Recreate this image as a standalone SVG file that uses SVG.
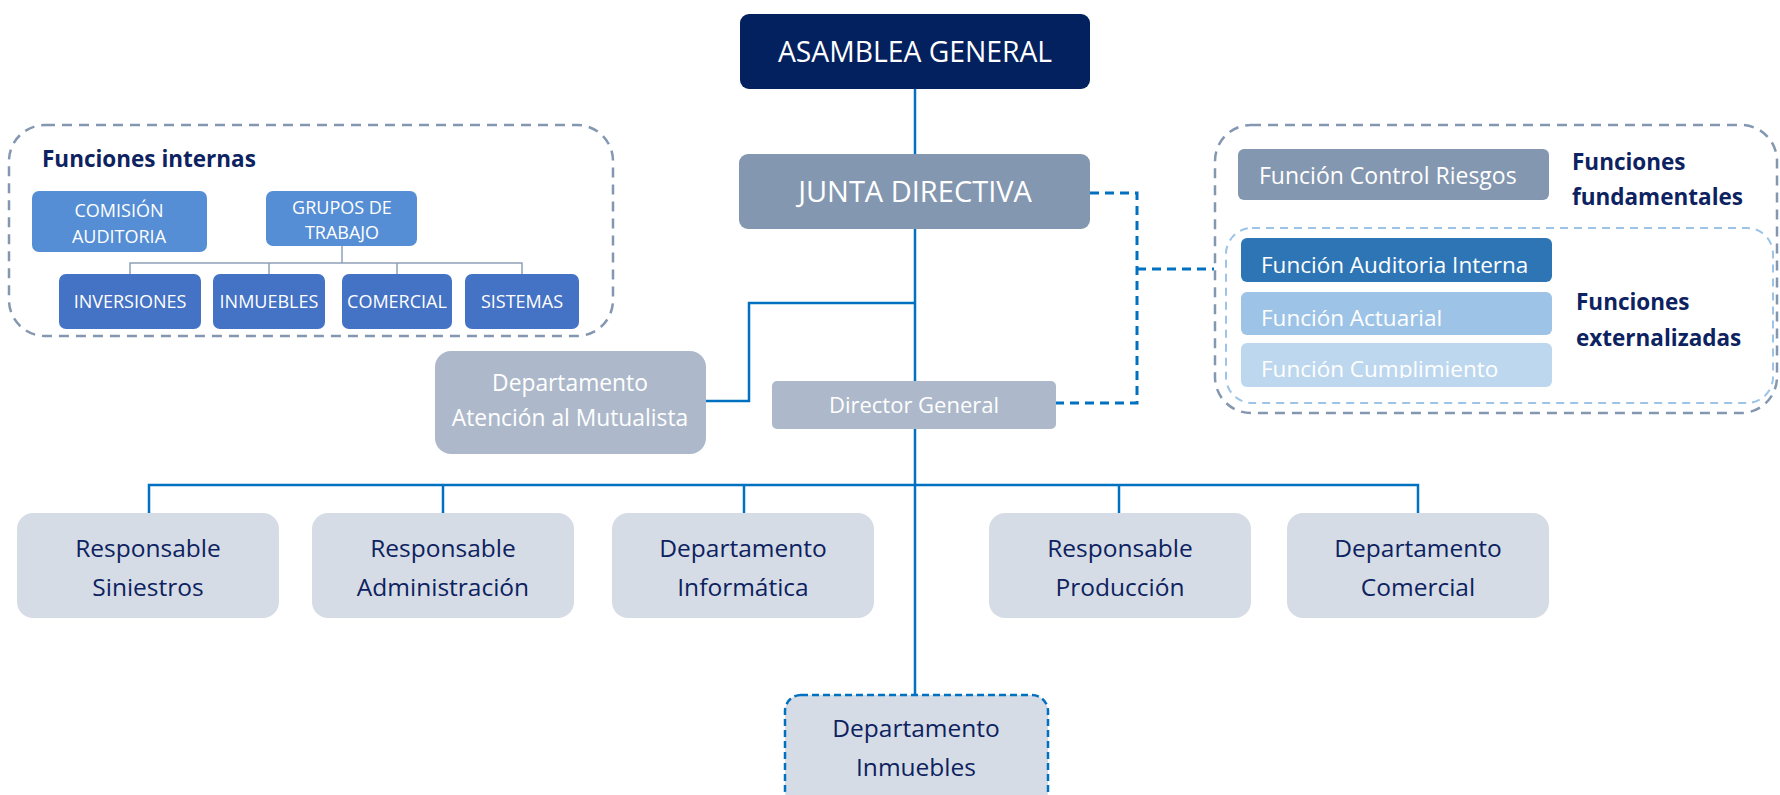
<svg xmlns="http://www.w3.org/2000/svg" width="1780" height="795" viewBox="0 0 1780 795">
<style>
text{font-family:"Open Sans","Noto Sans","Liberation Sans",sans-serif;}
.w{fill:#ffffff;}
.n{fill:#0d2260;}
.b{font-weight:bold;fill:#0d2260;font-size:22.5px;}
.c{text-anchor:middle;}
.conn{stroke:#0070C0;stroke-width:2.5;fill:none;}
.dconn{stroke:#0070C0;stroke-width:3;fill:none;stroke-dasharray:9,6;}
.thin{stroke:#8fa0b8;stroke-width:1.5;fill:none;}
.grpbox{fill:none;stroke:#8497B0;stroke-width:2.5;stroke-dasharray:10,7;}
.inbox{fill:none;stroke:#9DC3E6;stroke-width:2;stroke-dasharray:8,6;}
.bot{fill:#D6DCE5;}
.mid{fill:#ADB9CA;}
.slate{fill:#8497B0;}
.fi{fill:#4472C4;}
.fi2{fill:#558ED5;}
.bt{font-size:24.5px;}
</style>
<defs>
<clipPath id="clipCump"><rect x="1241" y="343" width="311" height="35"/></clipPath>
</defs>
<g id="connectors">
<line class="conn" x1="915" y1="89" x2="915" y2="154"/>
<line class="conn" x1="915" y1="229" x2="915" y2="695"/>
<polyline class="conn" points="915,303 749,303 749,401 706,401"/>
<polyline class="conn" points="149,513 149,485 1418,485 1418,513"/>
<line class="conn" x1="443" y1="485" x2="443" y2="513"/>
<line class="conn" x1="744" y1="485" x2="744" y2="513"/>
<line class="conn" x1="1119" y1="485" x2="1119" y2="513"/>
<polyline class="dconn" points="1090,193 1137,193 1137,403 1056,403"/>
<line class="dconn" x1="1137" y1="269" x2="1214" y2="269"/>
<polyline class="thin" points="342,246 342,263"/>
<polyline class="thin" points="130,274 130,263 522,263 522,274"/>
<line class="thin" x1="269" y1="263" x2="269" y2="274"/>
<line class="thin" x1="397" y1="263" x2="397" y2="274"/>
</g>
<g id="funciones-internas">
<rect class="grpbox" x="9" y="125" width="604" height="211" rx="36"/>
<text class="b" x="42" y="167" font-size="22">Funciones internas</text>
</g>
<g id="comision-auditoria">
<rect class="fi2" x="32" y="191" width="175" height="61" rx="7"/>
<text class="w c" x="119" y="217" font-size="18">COMISIÓN</text>
<text class="w c" x="119" y="243" font-size="18">AUDITORIA</text>
</g>
<g id="grupos-trabajo">
<rect class="fi2" x="266" y="191" width="151" height="55" rx="7"/>
<text class="w c" x="342" y="214" font-size="18">GRUPOS DE</text>
<text class="w c" x="342" y="239" font-size="18">TRABAJO</text>
</g>
<g id="inversiones">
<rect class="fi" x="59" y="274" width="142" height="55" rx="7"/>
<text class="w c" x="130" y="308" font-size="18">INVERSIONES</text>
</g>
<g id="inmuebles">
<rect class="fi" x="213" y="274" width="112" height="55" rx="7"/>
<text class="w c" x="269" y="308" font-size="18">INMUEBLES</text>
</g>
<g id="comercial">
<rect class="fi" x="342" y="274" width="110" height="55" rx="7"/>
<text class="w c" x="397" y="308" font-size="18">COMERCIAL</text>
</g>
<g id="sistemas">
<rect class="fi" x="465" y="274" width="114" height="55" rx="7"/>
<text class="w c" x="522" y="308" font-size="18">SISTEMAS</text>
</g>
<g id="asamblea-general">
<rect x="740" y="14" width="350" height="75" rx="9" fill="#03215E"/>
<text class="w c" x="915" y="62" font-size="28.3">ASAMBLEA GENERAL</text>
</g>
<g id="junta-directiva">
<rect class="slate" x="739" y="154" width="351" height="75" rx="9"/>
<text class="w c" x="915" y="202" font-size="29">JUNTA DIRECTIVA</text>
</g>
<g id="dept-atencion">
<rect class="mid" x="435" y="351" width="271" height="103" rx="16"/>
<text class="w c" x="570" y="391" font-size="22.8">Departamento</text>
<text class="w c" x="570" y="426" font-size="22.8">Atención al Mutualista</text>
</g>
<g id="director-general">
<rect class="mid" x="772" y="381" width="284" height="48" rx="5"/>
<text class="w c" x="914" y="413" font-size="22">Director General</text>
</g>
<g id="funciones-box">
<rect class="grpbox" x="1215" y="125" width="562" height="288" rx="36"/>
<rect class="inbox" x="1226" y="228" width="547" height="175" rx="26"/>
<text class="b" x="1572" y="170">Funciones</text>
<text class="b" x="1572" y="205">fundamentales</text>
<text class="b" x="1576" y="310">Funciones</text>
<text class="b" x="1576" y="346">externalizadas</text>
</g>
<g id="funcion-control-riesgos">
<rect class="slate" x="1238" y="149" width="311" height="51" rx="6"/>
<text class="w" x="1259" y="184" font-size="23">Función Control Riesgos</text>
</g>
<g id="funcion-auditoria-interna">
<rect x="1241" y="238" width="311" height="44" rx="6" fill="#2E75B6"/>
<text class="w" x="1261" y="273" font-size="22.5">Función Auditoria Interna</text>
</g>
<g id="funcion-actuarial">
<rect x="1241" y="292" width="311" height="43" rx="6" fill="#9DC3E6"/>
<text class="w" x="1261" y="326" font-size="22.5">Función Actuarial</text>
</g>
<g id="funcion-cumplimiento">
<rect x="1241" y="343" width="311" height="44" rx="6" fill="#BDD7EE"/>
<text class="w" x="1261" y="377" font-size="22.5" clip-path="url(#clipCump)">Función Cumplimiento</text>
</g>
<g id="resp-siniestros">
<rect class="bot" x="17" y="513" width="262" height="105" rx="16"/>
<text class="n c bt" x="148" y="557">Responsable</text>
<text class="n c bt" x="148" y="596">Siniestros</text>
</g>
<g id="resp-administracion">
<rect class="bot" x="312" y="513" width="262" height="105" rx="16"/>
<text class="n c bt" x="443" y="557">Responsable</text>
<text class="n c bt" x="443" y="596">Administración</text>
</g>
<g id="dept-informatica">
<rect class="bot" x="612" y="513" width="262" height="105" rx="16"/>
<text class="n c bt" x="743" y="557">Departamento</text>
<text class="n c bt" x="743" y="596">Informática</text>
</g>
<g id="resp-produccion">
<rect class="bot" x="989" y="513" width="262" height="105" rx="16"/>
<text class="n c bt" x="1120" y="557">Responsable</text>
<text class="n c bt" x="1120" y="596">Producción</text>
</g>
<g id="dept-comercial">
<rect class="bot" x="1287" y="513" width="262" height="105" rx="16"/>
<text class="n c bt" x="1418" y="557">Departamento</text>
<text class="n c bt" x="1418" y="596">Comercial</text>
</g>
<g id="dept-inmuebles">
<rect class="bot" x="785" y="695" width="263" height="112" rx="16" stroke="#0070C0" stroke-width="2.5" stroke-dasharray="7,4"/>
<text class="n c bt" x="916" y="737">Departamento</text>
<text class="n c bt" x="916" y="776">Inmuebles</text>
</g>
</svg>
